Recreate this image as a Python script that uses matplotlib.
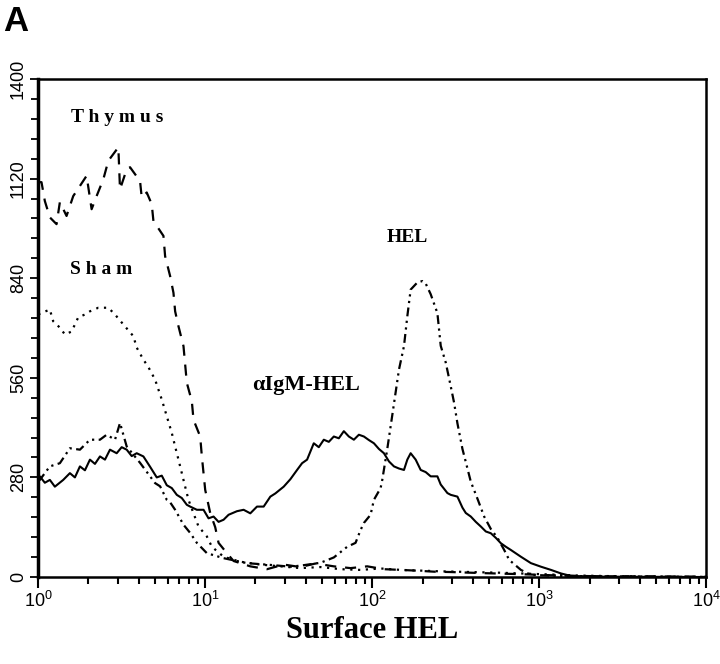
import numpy as np
import matplotlib
matplotlib.use("Agg")
import matplotlib.pyplot as plt
import matplotlib.transforms as mtransforms
from matplotlib.ticker import FixedLocator, NullFormatter

# Flow cytometry histograms (x in decades, y in counts)
thymus_log = [0.0, 0.02, 0.04, 0.07, 0.11, 0.13, 0.17, 0.21, 0.23, 0.29, 0.32, 0.35, 0.39, 0.42,
              0.48, 0.49, 0.53, 0.55, 0.61, 0.62, 0.65, 0.68, 0.69, 0.75, 0.76, 0.79, 0.81,
              0.82, 0.84, 0.87, 0.89, 0.92, 0.93, 0.97, 0.98, 1.00, 1.03, 1.06, 1.08, 1.13,
              1.17, 1.27, 1.37, 1.47, 1.57, 1.66, 1.77, 1.87, 1.97, 2.07, 2.17, 2.26, 2.37,
              2.47, 2.66, 2.89, 3.13, 3.37, 4.0]
thymus_cnt = [1110, 1110, 1057, 1011, 992, 1054, 1015, 1071, 1085, 1128, 1034, 1071, 1118, 1170,
              1208, 1090, 1146, 1152, 1113, 1067, 1081, 1048, 1001, 959, 902, 846, 799,
              747, 705, 649, 546, 494, 442, 395, 339, 245, 180, 140, 96, 67,
              45, 30, 22, 35, 28, 38, 30, 25, 30, 22, 20, 18, 15,
              14, 11, 8, 4, 2, 1]

sham_log = [0.0, 0.01, 0.07, 0.09, 0.13, 0.16, 0.20, 0.24, 0.28, 0.31, 0.36, 0.42, 0.46, 0.51,
            0.57, 0.59, 0.63, 0.66, 0.70, 0.74, 0.77, 0.80, 0.82, 0.84, 0.86, 0.88, 0.90,
            0.93, 0.96, 1.01, 1.04, 1.11, 1.21, 1.33, 1.45, 1.57, 1.69, 1.81, 1.93, 2.05,
            2.17, 2.29, 2.41, 2.59, 2.77, 3.01, 3.25, 3.49, 4.0]
sham_cnt = [740, 740, 752, 719, 701, 682, 690, 730, 738, 747, 757, 757, 738, 710,
            677, 645, 611, 590, 555, 499, 452, 405, 367, 330, 292, 254, 217,
            179, 142, 114, 85, 57, 43, 35, 30, 25, 28, 22, 20, 24,
            20, 18, 16, 14, 12, 8, 4, 2, 0]

hel_log = [0.0, 0.01, 0.07, 0.13, 0.19, 0.25, 0.31, 0.37, 0.41, 0.46, 0.49, 0.53, 0.61, 0.70,
           0.73, 0.77, 0.79, 0.82, 0.87, 0.91, 0.95, 1.01, 1.11, 1.25, 1.39, 1.51, 1.57,
           1.69, 1.77, 1.85, 1.90, 1.93, 1.95, 1.99, 2.01, 2.05, 2.06, 2.09, 2.12, 2.16,
           2.19, 2.21, 2.23, 2.27, 2.30, 2.32, 2.35, 2.39, 2.41, 2.44, 2.47, 2.49, 2.51,
           2.54, 2.57, 2.59, 2.63, 2.67, 2.71, 2.75, 2.79, 2.82, 2.89, 2.95, 3.13, 4.0]
hel_cnt = [273, 273, 311, 320, 362, 358, 386, 386, 400, 386, 433, 367, 321, 264,
           255, 217, 210, 189, 147, 124, 96, 67, 53, 39, 34, 29, 32,
           40, 55, 85, 96, 132, 152, 175, 217, 250, 273, 360, 455, 583,
           649, 733, 808, 828, 832, 825, 795, 742, 650, 603, 536, 490, 432,
           360, 305, 268, 220, 170, 135, 110, 76, 48, 20, 6, 3, 0]

aigm_log = [0.0, 0.01, 0.04, 0.07, 0.10, 0.15, 0.19, 0.22, 0.25, 0.28, 0.31, 0.34, 0.37, 0.40,
            0.43, 0.47, 0.50, 0.53, 0.56, 0.59, 0.63, 0.67, 0.71, 0.74, 0.77, 0.80, 0.83,
            0.86, 0.89, 0.91, 0.95, 0.99, 1.02, 1.05, 1.08, 1.11, 1.14, 1.19, 1.23, 1.27,
            1.31, 1.35, 1.39, 1.42, 1.47, 1.51, 1.55, 1.58, 1.61, 1.65, 1.68, 1.71, 1.74,
            1.77, 1.80, 1.83, 1.86, 1.89, 1.92, 1.95, 1.98, 2.01, 2.04, 2.07, 2.10, 2.13,
            2.16, 2.19, 2.21, 2.23, 2.26, 2.29, 2.32, 2.35, 2.39, 2.41, 2.45, 2.47, 2.51,
            2.54, 2.56, 2.59, 2.62, 2.65, 2.68, 2.71, 2.74, 2.77, 2.80, 2.83, 2.89, 2.95,
            3.01, 3.07, 3.13, 3.19, 3.37, 4.0]
aigm_cnt = [283, 283, 265, 273, 254, 273, 292, 280, 311, 300, 330, 318, 339, 330,
            358, 348, 365, 358, 340, 348, 339, 310, 280, 285, 258, 250, 231,
            222, 203, 198, 189, 189, 165, 170, 155, 161, 175, 185, 189, 179,
            198, 198, 226, 235, 254, 275, 301, 320, 330, 376, 365, 386, 380,
            395, 390, 410, 395, 386, 400, 395, 385, 376, 360, 348, 325, 311,
            305, 301, 330, 348, 330, 301, 295, 283, 283, 260, 236, 231, 226,
            195, 180, 170, 155, 142, 128, 123, 110, 95, 85, 76, 57, 39,
            29, 20, 10, 3, 1, 0]

y_ticks = [0, 280, 560, 840, 1120, 1400]
x_tick_labels = ["$10^{0}$", "$10^{1}$", "$10^{2}$", "$10^{3}$", "$10^{4}$"]

plt.rcParams['mathtext.default'] = 'regular'
plt.rcParams['font.family'] = ['Liberation Sans', 'DejaVu Sans']

fig = plt.figure(figsize=(7.2, 6.64), dpi=100)
ax = fig.add_axes([0.053, 0.131, 0.928, 0.750])

lw = 1.6
ax.plot(10 ** np.array(thymus_log), thymus_cnt, color="black", lw=lw, linestyle=(0, (5, 4)))
ax.plot(10 ** np.array(sham_log), sham_cnt, color="black", lw=lw, linestyle=(0, (1, 2.5)))
ax.plot(10 ** np.array(hel_log), hel_cnt, color="black", lw=lw, linestyle=(0, (4, 2, 1, 2, 1, 2)))
ax.plot(10 ** np.array(aigm_log), aigm_cnt, color="black", lw=1.5, linestyle="-")

ax.set_xscale("log")
ax.set_xlim(1, 1e4)
ax.set_ylim(0, 1400)

ax.xaxis.set_major_locator(FixedLocator([1, 10, 100, 1000, 10000]))
ax.set_xticklabels(x_tick_labels, fontsize=13)
minors = [m * 10 ** d for d in range(4) for m in range(2, 10)]
ax.xaxis.set_minor_locator(FixedLocator(minors))
ax.xaxis.set_minor_formatter(NullFormatter())
shift = mtransforms.ScaledTranslation(-5 / 72, 0, fig.dpi_scale_trans)
for t in ax.get_xticklabels():
    t.set_transform(t.get_transform() + shift)

ax.set_yticks(y_ticks)
ax.set_yticklabels([str(v) for v in y_ticks], rotation=90, va="center", fontsize=13)
ax.yaxis.set_minor_locator(FixedLocator(list(range(0, 1401, 56))))

ax.tick_params(axis="x", which="major", length=8, width=1.5, pad=2)
ax.tick_params(axis="x", which="minor", length=5, width=1.5)
ax.tick_params(axis="y", which="major", length=6, width=1.3, pad=2)
ax.tick_params(axis="y", which="minor", length=5, width=1.3)
for s in ax.spines.values():
    s.set_linewidth(1.8)
ax.spines["left"].set_linewidth(2.5)

serif = ["Liberation Serif", "DejaVu Serif"]
lab = dict(family=serif, fontweight="bold", fontsize=14, ha="center", va="center")
ax.text(2.96, 1293, "T h y m u s", **lab)
ax.text(2.38, 865, "S h a m", **lab)
ax.text(162, 955, "HEL", **lab)
ax.text(40, 541, "\u03b1IgM-HEL", family=serif, fontweight="bold", fontsize=16,
        ha="center", va="center")

fig.text(0.517, 0.051, "Surface HEL", family=serif, fontweight="bold", fontsize=22,
         ha="center", va="center")
fig.text(0.005, 0.992, "A", fontweight="bold", fontsize=25, ha="left", va="top")

fig.savefig("out.png", dpi=100)
